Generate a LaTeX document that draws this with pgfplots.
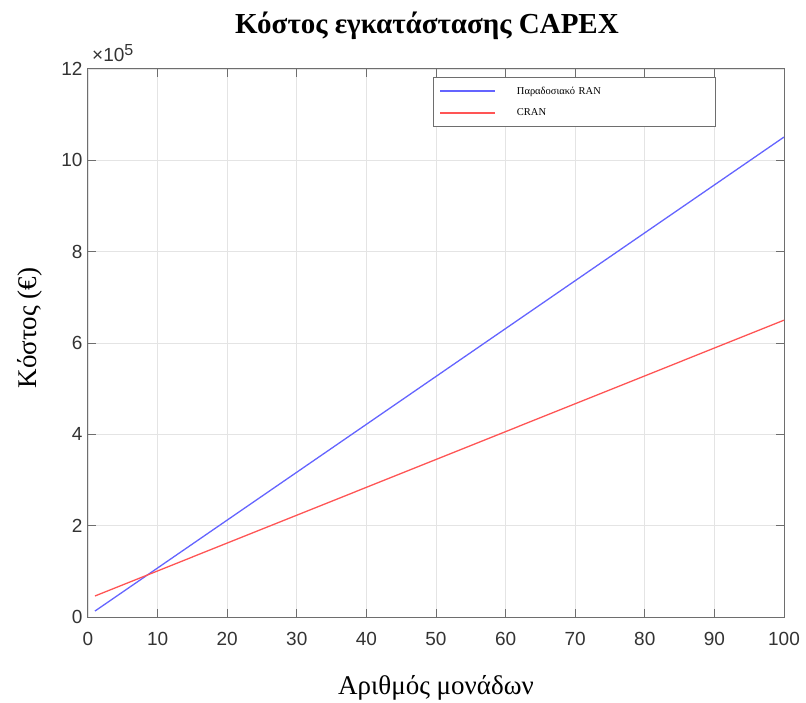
\documentclass[border=0pt]{standalone}
\usepackage{pgfplots}
\pgfplotsset{compat=1.18}
\usepackage{fontspec}
\setmainfont{Liberation Serif}
\newfontfamily\arial{Liberation Sans}
\definecolor{gridc}{RGB}{228,228,228}
\definecolor{axc}{RGB}{110,110,110}
\definecolor{bl}{RGB}{100,100,255}
\definecolor{rd}{RGB}{255,85,85}
\begin{document}
\begin{tikzpicture}
\begin{axis}[
  scale only axis, width=696pt, height=548pt,
  xmin=0, xmax=100, ymin=0, ymax=1200000,
  clip mode=individual,
  xtick={0,10,...,100},
  ytick={0,200000,400000,600000,800000,1000000,1200000},
  yticklabels={0,2,4,6,8,10,12},
  scaled y ticks=false,
  grid=major, major grid style={gridc, line width=0.8pt},
  axis line style={axc, line width=1pt},
  tick style={axc, line width=1pt},
  tick align=inside, major tick length=8pt,
  xtick pos=both, ytick pos=both,
  /pgf/number format/assume math mode=true,
  tick label style={font=\arial\fontsize{19}{22}\selectfont, text=black!80},
  xticklabel style={yshift=-12pt},
  yticklabel style={xshift=-2pt},
  title={\bfseries Κόστος εγκατάστασης CAPEX},
  title style={font=\fontsize{29}{32}\selectfont, yshift=20pt, xshift=-9pt},
  xlabel={Αριθμός μονάδων},
  ylabel={Κόστος (€)},
  label style={font=\fontsize{27}{30}\selectfont},
  xlabel style={yshift=-23pt},
  ylabel style={yshift=12pt, xshift=15pt},
  legend style={at={(rel axis cs:0.496,0.985)}, anchor=north west,
    draw=axc, line width=0.8pt, fill=white,
    font=\fontsize{10.5}{12}\selectfont,
    row sep=1pt, inner ysep=3pt, inner xsep=6pt,
    nodes={text width=171pt, minimum height=21pt, inner xsep=21pt}},
  legend cell align=left,
  legend image code/.code={\draw[#1, line width=1.3pt] (0pt,0pt) -- (55pt,0pt);},
]
\addplot[bl, line width=1.3pt] coordinates {(1,13000) (100,1051000)};
\addlegendentry{Παραδοσιακό RAN}
\addplot[rd, line width=1.3pt] coordinates {(1,46000) (100,650000)};
\addlegendentry{CRAN}
\node[anchor=south west, font=\arial\fontsize{19}{22}\selectfont, text=black!80, inner sep=1pt, yshift=6pt, xshift=3pt] at (rel axis cs:0,1) {×10\textsuperscript{\fontsize{16}{18}\selectfont 5}};
\end{axis}
\pgfresetboundingbox
\path (current axis.south west) ++(-88pt,-85pt) rectangle ++(806pt,702pt);
\end{tikzpicture}
\end{document}
